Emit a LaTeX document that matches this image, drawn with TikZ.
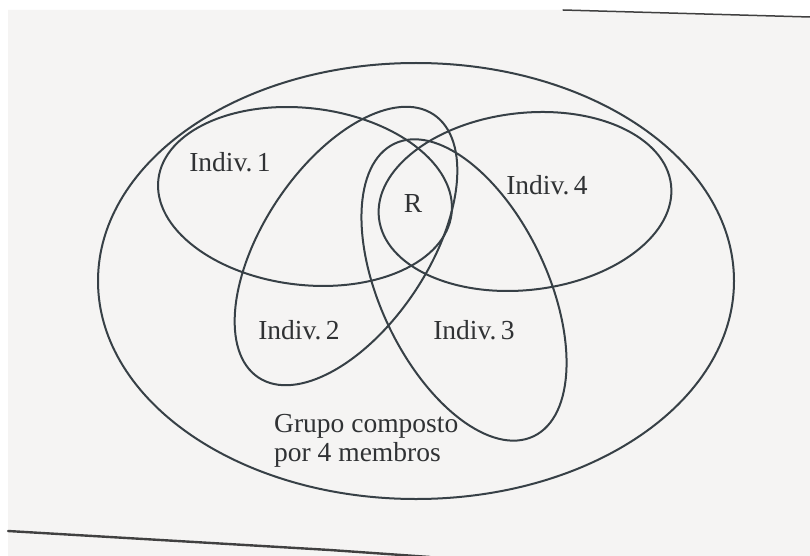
\documentclass[tikz,border=0pt]{standalone}
\usepackage{fontspec}
\setmainfont{Liberation Serif}
\definecolor{papel}{RGB}{245,244,243}
\definecolor{traco}{RGB}{55,64,70}
\definecolor{tinta}{RGB}{48,50,52}
\tikzset{
  conjunto/.style={draw=traco, line width=2pt},
  rotulo/.style={text=tinta, inner sep=0pt, font=\fontsize{27.5}{29}\selectfont},
  pagina/.style={draw=black!75, line cap=round}
}

\begin{document}
\begin{tikzpicture}[x=1pt, y=-1pt]

  % folha
  \fill[white] (0,0) rectangle (810,556);
  \useasboundingbox (0,0) rectangle (810,556);
  \fill[papel] (8,10) -- (563,10) -- (810,17) -- (810,556) -- (8,556) -- cycle;
  \draw[pagina, line width=1.5pt] (563,10) -- (810,17);
  \draw[pagina, line width=2.4pt] (8,531) -- (330,550) -- (430,557);

  % centros dos conjuntos
  \coordinate (cgrupo) at (416,281);
  \coordinate (cind1) at (305,196.5);
  \coordinate (cind2) at (346,246);
  \coordinate (cind3) at (464,290);
  \coordinate (cind4) at (525,201.5);

  \draw[conjunto] (cgrupo) ellipse [x radius=318pt, y radius=218pt];
  \draw[conjunto, rotate around={-6.7:(cind1)}] (cind1) ellipse [x radius=147.6pt, y radius=88.4pt];
  \draw[conjunto, rotate around={56.3:(cind2)}] (cind2) ellipse [x radius=158pt, y radius=82.5pt];
  \draw[conjunto, rotate around={-64.6:(cind3)}] (cind3) ellipse [x radius=162pt, y radius=83.5pt];
  \draw[conjunto, rotate around={6.5:(cind4)}] (cind4) ellipse [x radius=147pt, y radius=88.5pt];

  \node[rotulo] (ind1) at (230,162) {Indiv.\,1};
  \node[rotulo] (ind2) at (299,330) {Indiv.\,2};
  \node[rotulo] (ind3) at (474,330) {Indiv.\,3};
  \node[rotulo] (ind4) at (547,185) {Indiv.\,4};
  \node[rotulo] (r) at (413,203) {R};
  \node[rotulo, anchor=west, align=left] (grupo) at (274,441) {Grupo composto\\por 4 membros};

\end{tikzpicture}
\end{document}
